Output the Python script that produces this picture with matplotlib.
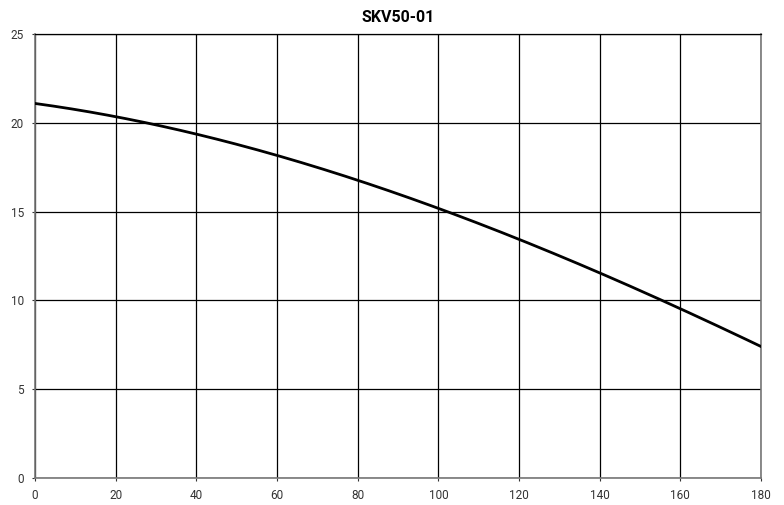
import matplotlib.pyplot as plt
import numpy as np

plt.rcParams['font.family'] = ['Roboto', 'DejaVu Sans']

# 曲线数据
flow = [0, 20, 40, 60, 80, 100, 120, 140, 160, 180]
head = [21.13, 20.29, 19.31, 18.22, 16.8, 15.18, 13.44, 11.53, 9.5, 7.43]

x_ticks = [0, 20, 40, 60, 80, 100, 120, 140, 160, 180]
y_ticks = [0, 5, 10, 15, 20, 25]

fig = plt.figure(figsize=(7.84, 5.05), dpi=100)
ax = fig.add_axes([35 / 784, 1 - 478 / 505, 726 / 784, 444 / 505])

# 平滑曲线
xs = np.linspace(flow[0], flow[-1], 200)
coef = np.polyfit(flow, head, 3)
ax.plot(xs, np.polyval(coef, xs), color='black', linewidth=2, zorder=3)

ax.set_xlim(0, 180)
ax.set_ylim(0, 25)
ax.set_xticks(x_ticks)
ax.set_yticks(y_ticks)
ax.grid(True, color='black', linewidth=0.9)
ax.tick_params(length=2, labelsize=8.5, colors='#333333', pad=6)
for s in ax.spines.values():
    s.set_color('#777777')
    s.set_linewidth(1.2)
ax.spines['top'].set_color('black')
ax.spines['top'].set_linewidth(0.9)

ax.set_title('SKV50-01', fontsize=11.5, fontweight='bold', pad=9)

fig.savefig('out.png', dpi=100)
